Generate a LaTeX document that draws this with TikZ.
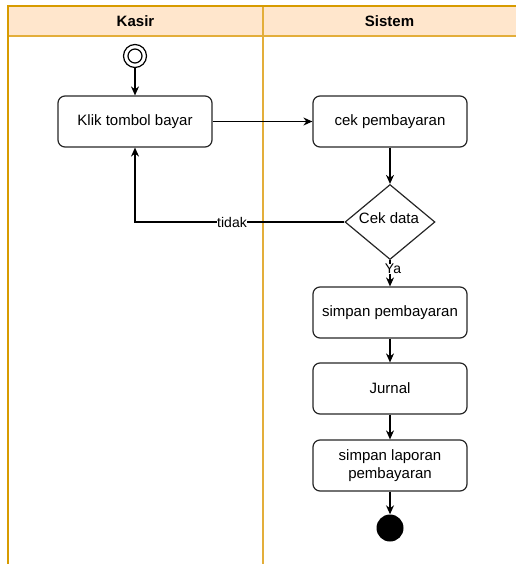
\documentclass[tikz,border=0pt]{standalone}
\usepackage{fontspec}
\setmainfont{Liberation Sans}
\usetikzlibrary{arrows.meta,shapes.geometric}
\definecolor{lanefill}{HTML}{FFE6CC}
\definecolor{lanestroke}{HTML}{D79B00}
\definecolor{lanediv}{HTML}{E3AE3A}
\tikzset{
  act/.style={draw=black!85, line width=1.2pt, rounded corners=7pt, minimum width=154pt, minimum height=51pt, align=center, font=\fontsize{15}{18}\selectfont, inner sep=2pt},
  flow/.style={draw=black, line width=1.2pt, -{Stealth[length=9pt,width=8pt]}},
  lbl/.style={font=\fontsize{14}{16}\selectfont, fill=white, inner sep=0.5pt},
  hdr/.style={font=\bfseries\fontsize{15}{18}\selectfont}
}
\begin{document}
\begin{tikzpicture}[x=1pt,y=-1pt]
\useasboundingbox (0,0) rectangle (515,564);
% swimlanes
\fill[lanefill] (8,6) rectangle (520,36);
\draw[lanediv, line width=1.5pt] (263,6) -- (263,570);
\draw[lanediv, line width=1.5pt] (8,36) -- (520,36);
\draw[lanestroke, line width=1.5pt] (8,570) -- (8,6) -- (520,6);
\node[hdr] (hk) at (135.5,21) {Kasir};
\node[hdr] (hs) at (389.5,21) {Sistem};
% start
\node[circle, draw=black, line width=1.2pt, minimum size=23pt, inner sep=0pt] (start) at (135,56) {};
\node[circle, draw=black, line width=1.2pt, minimum size=14pt, inner sep=0pt] (startin) at (135,56) {};
% activities
\node[act] (klik) at (135,121.5) {Klik tombol bayar};
\node[act] (cek) at (390,121.5) {cek pembayaran};
\node[diamond, draw=black!85, line width=1.2pt, minimum width=90pt, minimum height=75pt, inner sep=0pt] (dec) at (390,222) {};
\node[font=\fontsize{15}{18}\selectfont] (dectxt) at (389,218) {Cek data};
\node[act] (simpan) at (390,312.5) {simpan pembayaran};
\node[act] (jurnal) at (390,388.5) {Jurnal};
\node[act] (lapor) at (390,465.5) {simpan laporan\\pembayaran};
\node[circle, fill=black, minimum size=27pt, inner sep=0pt] (end) at (390,528) {};
% flows
\draw[flow] (start) -- (klik);
\draw[flow] (klik) -- (cek);
\draw[flow] (cek) -- (dec.north);
\draw[flow] (dec.west) -- (135,222) -- (klik.south);
\node[lbl] (tidak) at (232,222) {tidak};
\draw[flow] (dec.south) -- (simpan.north);
\node[lbl] (ya) at (393,269) {Ya};
\draw[flow] (simpan) -- (jurnal);
\draw[flow] (jurnal) -- (lapor);
\draw[flow] (lapor) -- (end);
\end{tikzpicture}
\end{document}
